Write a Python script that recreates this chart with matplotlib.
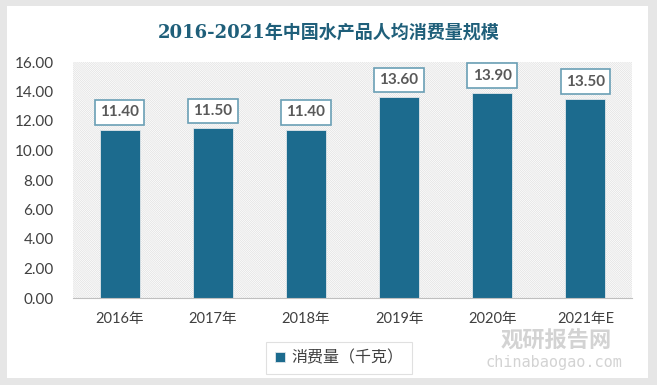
import matplotlib.pyplot as plt
from matplotlib.patches import Rectangle

plt.rcParams['font.family'] = ['Lato', 'Noto Sans CJK SC', 'DejaVu Sans']
plt.rcParams['hatch.color'] = '#e0e0e0'
plt.rcParams['hatch.linewidth'] = 0.5

years = ['2016年', '2017年', '2018年', '2019年', '2020年', '2021年E']
consumption = [11.40, 11.50, 11.40, 13.60, 13.90, 13.50]
yticks = [0, 2, 4, 6, 8, 10, 12, 14, 16]

bar_color = '#1c6b8e'
text_color = '#404040'

fig = plt.figure(figsize=(6.57, 3.85), dpi=100, facecolor='#e6e6e6')
# white card
fig.patches.append(Rectangle((7 / 657, 7 / 385), 641 / 657, 372 / 385,
                             transform=fig.transFigure, facecolor='white',
                             edgecolor='none', zorder=-10))

ax = fig.add_axes([73 / 657, 87 / 385, 559 / 657, 236 / 385])
ax.set_zorder(2)
ax.set_facecolor('white')
ax.add_patch(Rectangle((0, 0), 1, 1, transform=ax.transAxes, facecolor='white',
                       edgecolor='#e0e0e0', linewidth=0, hatch='\\' * 16, zorder=0))

x = range(len(years))
bars = ax.bar(x, consumption, width=0.43, color=bar_color, zorder=2,
              edgecolor='#e0e6ea', linewidth=0.6)

for xi, v in zip(x, consumption):
    ax.annotate(f'{v:.2f}', (xi, v), xytext=(0, 12.5), textcoords='offset points',
                ha='center', va='center', fontsize=11, fontweight='bold',
                color='#595959',
                bbox=dict(boxstyle='square,pad=0.35', facecolor='white',
                          edgecolor='#6a9fb5', linewidth=1.2), zorder=3)

ax.set_xlim(-0.5, len(years) - 0.5)
ax.set_ylim(0, 16)
ax.set_yticks(yticks)
ax.set_yticklabels([f'{t:.2f}' for t in yticks], fontsize=11, color=text_color)
ax.set_xticks(list(x))
ax.set_xticklabels(years, fontsize=10.5, color=text_color)
ax.tick_params(length=0, pad=10)
ax.tick_params(axis='y', pad=14)
for s in ['top', 'right', 'left']:
    ax.spines[s].set_visible(False)
ax.spines['bottom'].set_color('#bfbfbf')
ax.spines['bottom'].set_zorder(4)

fig.text(0.5, 352 / 385, '2016-2021年中国水产品人均消费量规模', ha='center', va='center',
         fontsize=13, fontweight='bold', color='#1f5f7a',
         family=['DejaVu Serif', 'Noto Sans CJK SC'])

leg = ax.legend([bars], ['消费量（千克）'], loc='center',
                bbox_to_anchor=(339 / 657, 27 / 385), bbox_transform=fig.transFigure,
                fontsize=11.5, frameon=True, fancybox=False, handlelength=0.6,
                handleheight=0.6, handletextpad=0.4, borderpad=0.55, borderaxespad=0)
leg.get_frame().set_edgecolor('#d9d9d9')
leg.get_frame().set_linewidth(0.8)
for t in leg.get_texts():
    t.set_color(text_color)

# watermark
fig.text(556 / 657, 44 / 385, '观研报告网', ha='center', va='center', fontsize=16,
         fontweight='bold', color='#c8c8c8', alpha=0.8)
fig.text(554 / 657, 22 / 385, 'chinabaogao.com', ha='center', va='center', fontsize=11,
         color='#c8c8c8', alpha=0.8, family=['DejaVu Sans Mono'])

fig.savefig('out.png', dpi=100, facecolor=fig.get_facecolor())
